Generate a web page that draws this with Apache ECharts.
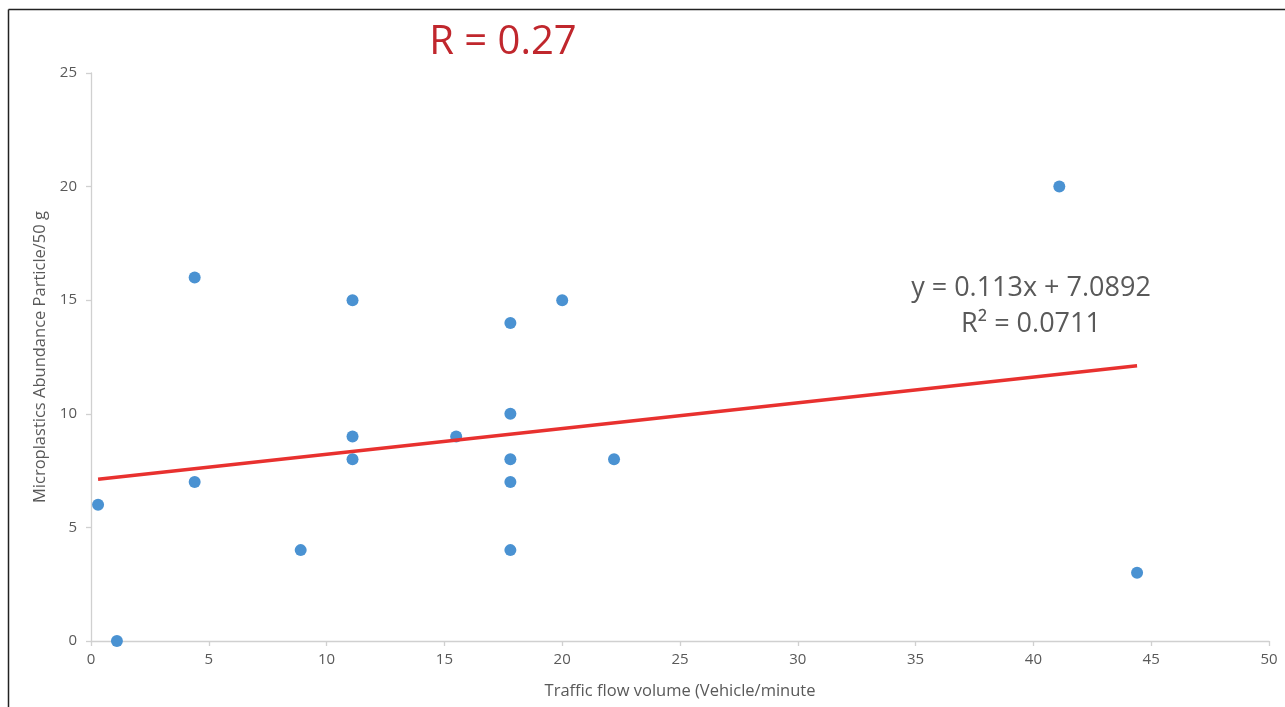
<!DOCTYPE html>
<html>
<head>
<meta charset="utf-8">
<script src="https://cdn.jsdelivr.net/npm/echarts@6/dist/echarts.min.js"></script>
<style>
html,body{margin:0;padding:0;background:#fff;}
#chart{width:1285px;height:707px;}
</style>
</head>
<body>
<div id="chart"></div>
<script>
// Data
const trafficFlow = [0.3, 1.1, 4.4, 4.4, 8.9, 11.1, 11.1, 11.1, 15.5, 17.8, 17.8, 17.8, 17.8, 17.8, 20.0, 22.2, 41.1, 44.4];
const abundance   = [6,   0,   16,  7,   4,   15,   9,    8,    9,    14,   10,   8,    7,    4,    15,   8,    20,   3];
const trendLine   = [[0.3, 7.12], [44.4, 12.11]];
const titleText = 'R = 0.27';
const equationLines = ['y = 0.113x + 7.0892', 'R² = 0.0711'];
const xAxisTitle = 'Traffic flow volume (Vehicle/minute';
const yAxisTitle = 'Microplastics Abundance Particle/50 g';

const points = trafficFlow.map((x, i) => [x, abundance[i]]);
const font = '"Open Sans", "Liberation Sans", sans-serif';

const chart = echarts.init(document.getElementById('chart'), null, {renderer: 'canvas'});
chart.setOption({
  animation: false,
  backgroundColor: '#ffffff',
  grid: {left: 91, top: 73, right: 16, bottom: 66, containLabel: false},
  xAxis: {
    type: 'value', min: 0, max: 50, interval: 5,
    name: xAxisTitle, nameLocation: 'middle', nameGap: 42,
    nameTextStyle: {color: '#595959', fontSize: 16.5, fontFamily: font},
    axisLine: {show: true, lineStyle: {color: '#d0d0d0', width: 1.3}},
    axisTick: {show: true, length: 5, lineStyle: {color: '#d0d0d0', width: 1.3}},
    axisLabel: {color: '#595959', fontSize: 15, fontFamily: font, margin: 11},
    splitLine: {show: false}
  },
  yAxis: {
    type: 'value', min: 0, max: 25, interval: 5,
    name: yAxisTitle, nameLocation: 'middle', nameGap: 40,
    nameTextStyle: {color: '#595959', fontSize: 16.5, fontFamily: font},
    axisLine: {show: true, lineStyle: {color: '#d0d0d0', width: 1.3}},
    axisTick: {show: true, length: 5, lineStyle: {color: '#d0d0d0', width: 1.3}},
    axisLabel: {color: '#595959', fontSize: 15, fontFamily: font, margin: 14},
    splitLine: {show: false}
  },
  series: [
    {
      type: 'scatter',
      data: points,
      symbolSize: 12,
      itemStyle: {color: '#4a92d2', opacity: 1},
      z: 3
    },
    {
      type: 'line',
      data: trendLine,
      showSymbol: false,
      symbol: 'none',
      lineStyle: {color: '#e8312f', width: 3.5},
      z: 4
    }
  ],
  graphic: [
    {type: 'line', shape: {x1: 8.5, y1: 9.5, x2: 1290, y2: 9.5}, style: {stroke: '#222', lineWidth: 1.5}},
    {type: 'line', shape: {x1: 8.5, y1: 9.5, x2: 8.5, y2: 710}, style: {stroke: '#222', lineWidth: 1.5}},
    {type: 'text', x: 503, y: 43, style: {text: titleText, fill: '#c0272d', font: '40px ' + font, textAlign: 'center', textVerticalAlign: 'middle'}},
    {type: 'text', x: 1031, y: 288, style: {text: equationLines[0], fill: '#595959', font: '27px ' + font, textAlign: 'center', textVerticalAlign: 'middle'}},
    {type: 'text', x: 1031, y: 324, style: {text: equationLines[1], fill: '#595959', font: '27px ' + font, textAlign: 'center', textVerticalAlign: 'middle'}}
  ]
});
</script>
</body>
</html>
